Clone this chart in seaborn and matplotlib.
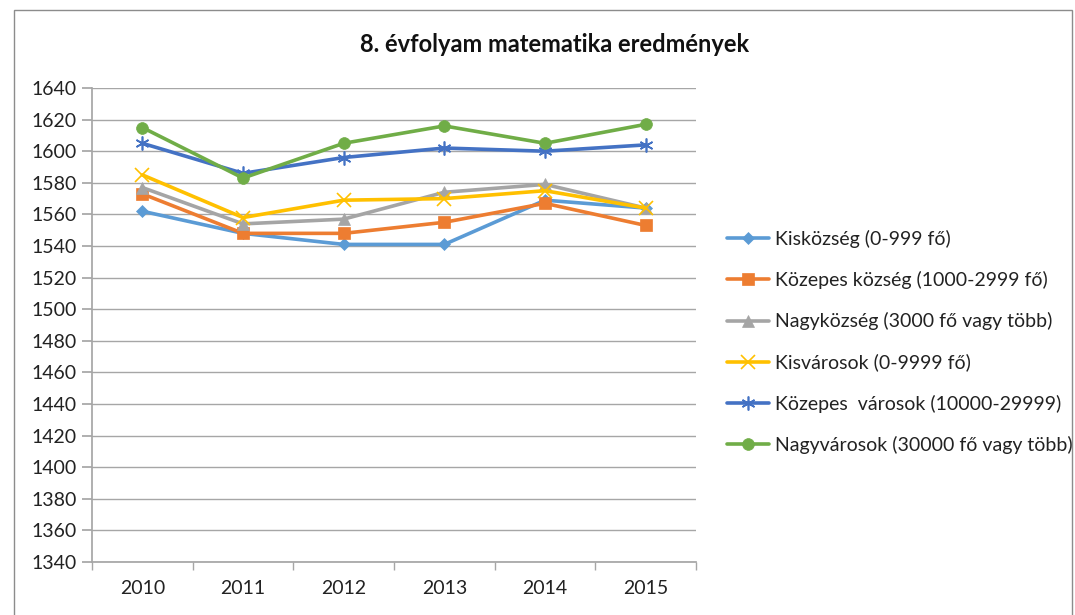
import matplotlib
matplotlib.use("Agg")
import matplotlib.pyplot as plt
import seaborn as sns
import pandas as pd
from matplotlib.patches import Rectangle

years = [2010, 2011, 2012, 2013, 2014, 2015]
kiskozseg = [1562, 1548, 1541, 1541, 1569, 1564]
kozepes_kozseg = [1573, 1548, 1548, 1555, 1567, 1553]
nagykozseg = [1577, 1554, 1557, 1574, 1579, 1564]
kisvarosok = [1585, 1558, 1569, 1570, 1575, 1564]
kozepes_varosok = [1605, 1586, 1596, 1602, 1600, 1604]
nagyvarosok = [1615, 1583, 1605, 1616, 1605, 1617]

labels = ["Kisközség (0-999 fő)",
          "Közepes község (1000-2999 fő)",
          "Nagyközség (3000 fő vagy több)",
          "Kisvárosok (0-9999 fő)",
          "Közepes  városok (10000-29999)",
          "Nagyvárosok (30000 fő vagy több)"]
series = [kiskozseg, kozepes_kozseg, nagykozseg, kisvarosok, kozepes_varosok, nagyvarosok]
colors = ["#5B9BD5", "#ED7D31", "#A5A5A5", "#FFC000", "#4472C4", "#70AD47"]
markers = ["D", "s", "^", "x", (6, 2, 0), "o"]
msizes = [6, 9, 8, 10, 10, 8.5]
title = "8. évfolyam matematika eredmények"

sns.set_theme(style="white")
plt.rcParams['font.family'] = ['Lato', 'DejaVu Sans']

fig = plt.figure(figsize=(10.75, 6.15), dpi=100)
ax = fig.add_axes([92/1075, 1-562/615, (696-92)/1075, (562-88)/615])

for lab, vals, c, m, ms in zip(labels, series, colors, markers, msizes):
    df = pd.DataFrame({"year": years, "value": vals})
    sns.lineplot(data=df, x="year", y="value", ax=ax, color=c, linewidth=2.6,
                 marker=m, markersize=ms, markeredgecolor=c,
                 markeredgewidth=1.2 if m == "x" or isinstance(m, tuple) else 0.5,
                 label=lab, legend=False)

ax.set_xlim(2009.5, 2015.5)
ax.set_ylim(1340, 1640)
ax.set_yticks(range(1340, 1641, 20))
ax.set_xticks(years)
ax.set_xticks([y - 0.5 for y in years] + [2015.5], minor=True)
ax.set_xlabel("")
ax.set_ylabel("")
ax.yaxis.grid(True, color="#A6A6A6", linewidth=1.0)
ax.xaxis.grid(False)
for s in ["top", "right"]:
    ax.spines[s].set_visible(False)
ax.spines["left"].set_color("#A6A6A6")
ax.spines["bottom"].set_color("#A6A6A6")
ax.tick_params(axis="y", which="major", left=True, length=7, color="#A6A6A6",
               labelsize=14, labelcolor="#222222", pad=4)
ax.tick_params(axis="x", which="major", bottom=False, length=0, labelsize=14,
               labelcolor="#222222", pad=13)
ax.tick_params(axis="x", which="minor", bottom=True, length=6, color="#A6A6A6")

fig.text(555/1075, 1-45/615, title, ha="center", va="center",
         fontsize=17, fontweight="bold", color="#111111")

handles, labs = ax.get_legend_handles_labels()
leg = fig.legend(handles, labs, loc="upper left", bbox_to_anchor=(727/1075, 1-230/615),
                 frameon=False, fontsize=14, handlelength=2.15, handletextpad=0.3,
                 labelspacing=1.19, borderaxespad=0, borderpad=0)
for t in leg.get_texts():
    t.set_color("#222222")

fig.add_artist(Rectangle((14/1075, -0.05), (1072-14)/1075, 1-10/615 + 0.05,
                         transform=fig.transFigure, fill=False,
                         edgecolor="#8C8C8C", linewidth=1.0))

fig.savefig("out.png", dpi=100)
